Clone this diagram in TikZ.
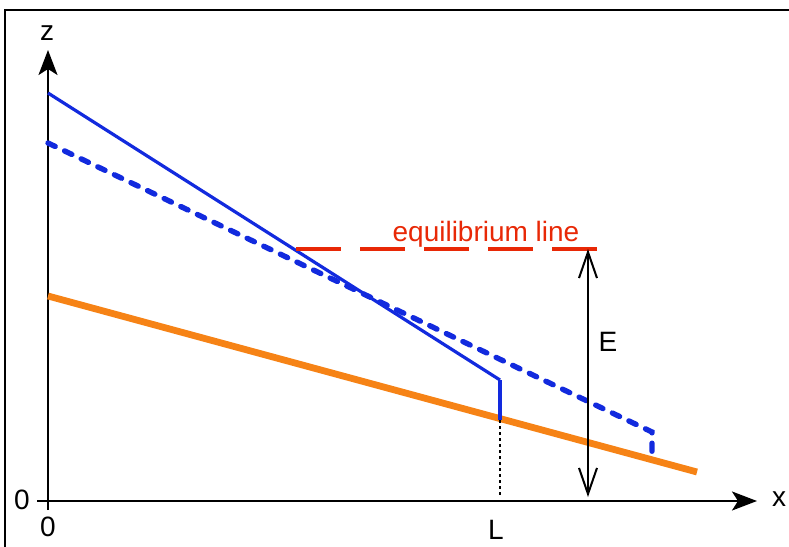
\documentclass[tikz,border=0pt]{standalone}
\usepackage{fontspec}
\setmainfont{Liberation Sans}
\usepackage{tikz}
\usetikzlibrary{arrows.meta}

\definecolor{iceblue}{RGB}{18,42,222}
\definecolor{bedorange}{RGB}{246,131,22}
\definecolor{elared}{RGB}{232,40,6}

\tikzset{
	axis/.style={line width=1pt, -{Stealth[length=12.5pt, width=9.5pt, inset=3pt]}},
	lbl/.style={font=\fontsize{14}{16}\selectfont, inner sep=0pt}
}

\begin{document}
\begin{tikzpicture}[x=0.5pt, y=-0.5pt]
	\useasboundingbox (0,0) rectangle (789,547);
	% frame
	\draw[line width=1pt] (5,547) -- (5,10) -- (789,10);
	% axes
	\coordinate (O) at (48,501);
	\draw[axis] (48,510) -- (48,50) coordinate (ztip);
	\draw[axis] (37,501) -- (757,501) coordinate (xtip);
	\node[lbl] (zl) at (47,33) {z};
	\node[lbl] (xl) at (779,499) {x};
	\node[lbl] (z0) at (22,500) {0};
	\node[lbl] (x0) at (48,527) {0};
	% bed
	\draw[bedorange, line width=3.4pt] (48,296) -- (697,472);
	% glacier surfaces
	\coordinate (s0) at (48,93);
	\coordinate (s1) at (500,380);
	\coordinate (s2) at (500,420);
	\draw[iceblue, line width=1.6pt] (s0) -- (s1);
	\draw[iceblue, line width=2pt] (s1) -- (s2);
	\coordinate (d0) at (48,143);
	\coordinate (d1) at (652,432);
	\coordinate (d2) at (652,460);
	\draw[iceblue, line width=2.7pt, line cap=round, dash pattern=on 4pt off 5.2pt] (d0) -- (d1) -- (d2);
	% terminus
	\coordinate (Lb) at (500,497);
	\draw[line width=1pt, dash pattern=on 1.5pt off 1.5pt] (s2) -- (Lb);
	\node[lbl] (L) at (496,530) {L};
	% equilibrium line
	\coordinate (e0) at (296,249);
	\coordinate (e1) at (598,249);
	\draw[elared, line width=2pt, dash pattern=on 22.5pt off 9.5pt] (e0) -- (e1);
	\node[lbl, elared] (el) at (486,234) {equilibrium line};
	% elevation
	\coordinate (Et) at (588,249);
	\coordinate (Eb) at (588,497);
	\draw[line width=1pt, {Straight Barb[length=13pt, width=9pt]}-{Straight Barb[length=13pt, width=9pt]}] (Et) -- (Eb);
	\node[lbl] (E) at (608,342) {E};
\end{tikzpicture}
\end{document}
